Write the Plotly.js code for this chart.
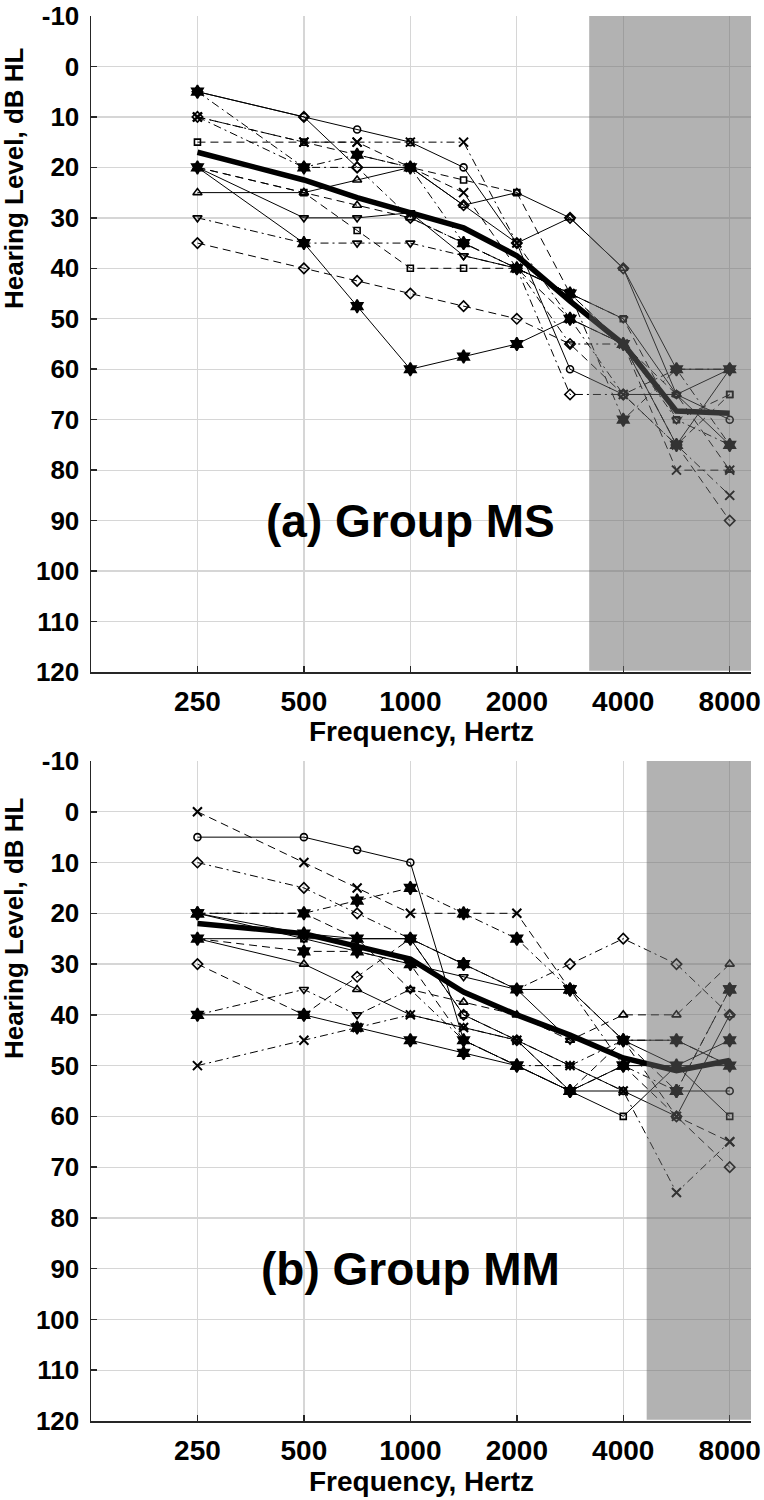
<!DOCTYPE html>
<html>
<head>
<meta charset="utf-8">
<script src="https://cdn.plot.ly/plotly-3.0.1.min.js"></script>
<style>html,body{margin:0;padding:0;background:#fff;}#chart{width:764px;height:1500px;}</style>
</head>
<body>
<div id="chart"></div>
<script>
// ---------- data ----------
const freqs = [250, 500, 750, 1000, 1500, 2000, 3000, 4000, 6000, 8000];
// audiogram position of each frequency (octaves above 250 Hz, inter-octaves mid-way)
const xPos = [0, 1, 1.5, 2, 2.5, 3, 3.5, 4, 4.5, 5];
const tickLabels = ['250', '500', '1000', '2000', '4000', '8000'];
const tickPos = [0, 1, 2, 3, 4, 5];
const yTickVals = [-10, 0, 10, 20, 30, 40, 50, 60, 70, 80, 90, 100, 110, 120];
const yTickText = ['-10', '0', '10', '20', '30', '40', '50', '60', '70', '80', '90', '100', '110', '120'];

// Group MS (panel a) individual thresholds, dB HL
const ms01 = [5, 10, 12.5, 15, 20, 35, 60, 65, 65, 70];
const ms02 = [10, 15, 15, 15, 15, 35, 50, 65, 75, 85];
const ms03 = [15, 15, 17.5, 20, 22.5, 25, 45, 50, 70, 65];
const ms04 = [10, 15, 15, 20, 25, 40, 45, 55, 80, 80];
const ms05 = [20, 35, 47.5, 60, 57.5, 55, 50, 55, 75, 60];
const ms06 = [10, 20, 20, 30, 35, 40, 65, 65, 60, 60];
const ms07 = [25, 25, 22.5, 20, 27.5, 25, 30, 40, 65, 60];
const ms08 = [20, 30, 30, 29, 37.5, 40, 45, 50, 65, 75];
const ms09 = [30, 35, 35, 35, 37.5, 40, 55, 55, 70, 75];
const ms10 = [35, 40, 42.5, 45, 47.5, 50, 55, 65, 75, 90];
const ms11 = [20, 25, 32.5, 40, 40, 40, 50, 55, 75, 65];
const ms12 = [5, 20, 17.5, 20, 35, 40, 45, 70, 60, 75];
const ms13 = [20, 25, 27.5, 30, 35, 40, 45, 55, 65, 80];
const ms14 = [5, 10, 20, 20, 27.5, 35, 30, 40, 60, 60];
const msMean = [17, 22.5, 26, 29, 32, 37.5, 46.5, 55, 68.3, 68.7];

// Group MM (panel b) individual thresholds, dB HL
const mm01 = [5, 5, 7.5, 10, 45, 50, 55, 55, 55, 55];
const mm02 = [0, 10, 15, 20, 20, 20, 35, 45, 60, 65];
const mm03 = [10, 15, 20, 25, 30, 35, 30, 25, 30, 40];
const mm04 = [20, 20, 17.5, 15, 20, 25, 35, 50, 55, 35];
const mm05 = [20, 24, 25, 25, 30, 35, 35, 45, 45, 50];
const mm06 = [25, 25, 27.5, 30, 32.5, 35, 45, 45, 50, 50];
const mm07 = [25, 30, 35, 40, 42.5, 45, 50, 55, 60, 40];
const mm08 = [20, 20, 25, 35, 37.5, 40, 45, 40, 40, 30];
const mm09 = [30, 40, 32.5, 25, 40, 45, 55, 50, 60, 70];
const mm10 = [40, 35, 40, 35, 45, 50, 50, 45, 45, 50];
const mm11 = [40, 40, 42.5, 45, 47.5, 50, 55, 50, 50, 45];
const mm12 = [50, 45, 42.5, 40, 42.5, 45, 50, 55, 75, 65];
const mm13 = [20, 25, 25, 25, 40, 45, 55, 60, 50, 60];
const mm14 = [25, 27.5, 27.5, 30, 45, 50, 55, 45, 55, 35];
const mmMean = [22, 24, 26.5, 29, 35.5, 40, 44, 48.5, 51, 49];

// shaded frequency regions (start position on the octave scale)
const msShadeStart = 3.68;
const mmShadeStart = 4.22;

// ---------- styles ----------
const DASH = '8px,5px';
const DASHDOT = '8px,4px,2px,4px';
const msStyle = [
  ['circle-open', 'solid'], ['x-thin-open', DASHDOT], ['square-open', DASH], ['x-thin-open', DASH],
  ['hexagram', 'solid'], ['diamond-open', DASHDOT], ['triangle-up-open', 'solid'], ['triangle-down-open', 'solid'],
  ['triangle-down-open', DASHDOT], ['diamond-open', DASH], ['square-open', DASH], ['hexagram', DASHDOT],
  ['triangle-up-open', DASH], ['diamond-open', 'solid']
];
const mmStyle = [
  ['circle-open', 'solid'], ['x-thin-open', DASH], ['diamond-open', DASHDOT], ['hexagram', DASHDOT],
  ['hexagram', 'solid'], ['triangle-down-open', 'solid'], ['triangle-up-open', 'solid'], ['triangle-up-open', DASH],
  ['diamond-open', DASH], ['triangle-down-open', DASHDOT], ['hexagram', 'solid'], ['x-thin-open', DASHDOT],
  ['square-open', 'solid'], ['hexagram', DASH]
];
const symSize = {'circle-open': 7, 'square-open': 6, 'diamond-open': 8, 'triangle-up-open': 8,
  'triangle-down-open': 8, 'x-thin-open': 9, 'hexagram': 10};

function subj(y, st, xa, ya) {
  return {
    x: xPos, y: y, xaxis: xa, yaxis: ya, type: 'scatter', mode: 'lines+markers',
    line: {color: 'black', width: 1, dash: st[1]},
    marker: {symbol: st[0], size: symSize[st[0]], color: 'black',
      line: {color: 'black', width: st[0] === 'x-thin-open' ? 2 : 1.6}},
    showlegend: false, hoverinfo: 'skip'
  };
}
function meanTrace(y, xa, ya) {
  return {x: xPos, y: y, xaxis: xa, yaxis: ya, type: 'scatter', mode: 'lines',
    line: {color: 'black', width: 5.5}, showlegend: false, hoverinfo: 'skip'};
}

const msData = [ms01, ms02, ms03, ms04, ms05, ms06, ms07, ms08, ms09, ms10, ms11, ms12, ms13, ms14];
const mmData = [mm01, mm02, mm03, mm04, mm05, mm06, mm07, mm08, mm09, mm10, mm11, mm12, mm13, mm14];

const traces = [];
msData.forEach((y, i) => traces.push(subj(y, msStyle[i], 'x', 'y')));
traces.push(meanTrace(msMean, 'x', 'y'));
mmData.forEach((y, i) => traces.push(subj(y, mmStyle[i], 'x2', 'y2')));
traces.push(meanTrace(mmMean, 'x2', 'y2'));

// ---------- layout ----------
const W = 764, H = 1500;
const FONT = 'Liberation Sans, Arial, Helvetica, sans-serif';
const xTickFont = {family: FONT, size: 28, color: 'black', weight: 'bold'};
const yTickFont = {family: FONT, size: 26, color: 'black', weight: 'bold'};
const xDom = [91 / W, 751 / W];
const yDomA = [1 - 672 / H, 1 - 16 / H];
const yDomB = [1 - 1421 / H, 1 - 761 / H];

function xAx(anchor) {
  return {domain: xDom, anchor: anchor, range: [-1, 5.2], tickmode: 'array', tickvals: tickPos, ticktext: tickLabels,
    showgrid: true, gridcolor: '#d6d6d6', gridwidth: 1.3, zeroline: false, showline: true, linecolor: '#262626',
    linewidth: 1.5, ticks: 'inside', ticklen: 6, tickwidth: 1.5, tickcolor: '#262626', tickfont: xTickFont,
    ticklabelstandoff: 4, ticklabeloverflow: 'allow', fixedrange: true};
}
function yAx(dom, anchor) {
  return {domain: dom, anchor: anchor, range: [120, -10], tickmode: 'array', tickvals: yTickVals, ticktext: yTickText,
    showgrid: true, gridcolor: '#d6d6d6', gridwidth: 1.3, zeroline: false, showline: true, linecolor: '#262626',
    linewidth: 1.5, ticks: 'inside', ticklen: 6, tickwidth: 1.5, tickcolor: '#262626', tickfont: yTickFont,
    ticklabelstandoff: 5, ticklabeloverflow: 'allow', fixedrange: true};
}

const shade = (xref, yref, x0) => ({type: 'rect', xref: xref, yref: yref + ' domain', x0: x0, x1: 5.2, y0: 0.002, y1: 1,
  fillcolor: 'rgba(102,102,102,0.5)', line: {width: 0}, layer: 'above'});

const xTitleFont = {family: FONT, size: 28, color: 'black', weight: 'bold'};
const yTitleFont = {family: FONT, size: 26, color: 'black', weight: 'bold'};
const bigFont = {family: FONT, size: 46, color: 'black', weight: 'bold'};

const layout = {
  width: W, height: H, autosize: false,
  margin: {l: 0, r: 0, t: 0, b: 0, pad: 0},
  paper_bgcolor: 'white', plot_bgcolor: 'white',
  showlegend: false,
  xaxis: xAx('y'), yaxis: yAx(yDomA, 'x'),
  xaxis2: xAx('y2'), yaxis2: yAx(yDomB, 'x2'),
  shapes: [shade('x', 'y', msShadeStart), shade('x2', 'y2', mmShadeStart)],
  annotations: [
    {text: '(a) Group MS', xref: 'x', yref: 'y', x: 2, y: 90, showarrow: false, font: bigFont, xanchor: 'center', yanchor: 'middle'},
    {text: '(b) Group MM', xref: 'x2', yref: 'y2', x: 2, y: 90, showarrow: false, font: bigFont, xanchor: 'center', yanchor: 'middle'},
    {text: 'Frequency, Hertz', xref: 'paper', yref: 'paper', x: 421 / W, y: 1 - 731 / H, showarrow: false, font: xTitleFont, xanchor: 'center', yanchor: 'middle'},
    {text: 'Frequency, Hertz', xref: 'paper', yref: 'paper', x: 421 / W, y: 1 - 1481 / H, showarrow: false, font: xTitleFont, xanchor: 'center', yanchor: 'middle'},
    {text: 'Hearing Level, dB HL', xref: 'paper', yref: 'paper', x: 14 / W, y: 1 - 178 / H, textangle: -90, showarrow: false, font: yTitleFont, xanchor: 'center', yanchor: 'middle'},
    {text: 'Hearing Level, dB HL', xref: 'paper', yref: 'paper', x: 14 / W, y: 1 - 928 / H, textangle: -90, showarrow: false, font: yTitleFont, xanchor: 'center', yanchor: 'middle'}
  ]
};

Plotly.newPlot('chart', traces, layout, {staticPlot: true, displayModeBar: false});
</script>
</body>
</html>
